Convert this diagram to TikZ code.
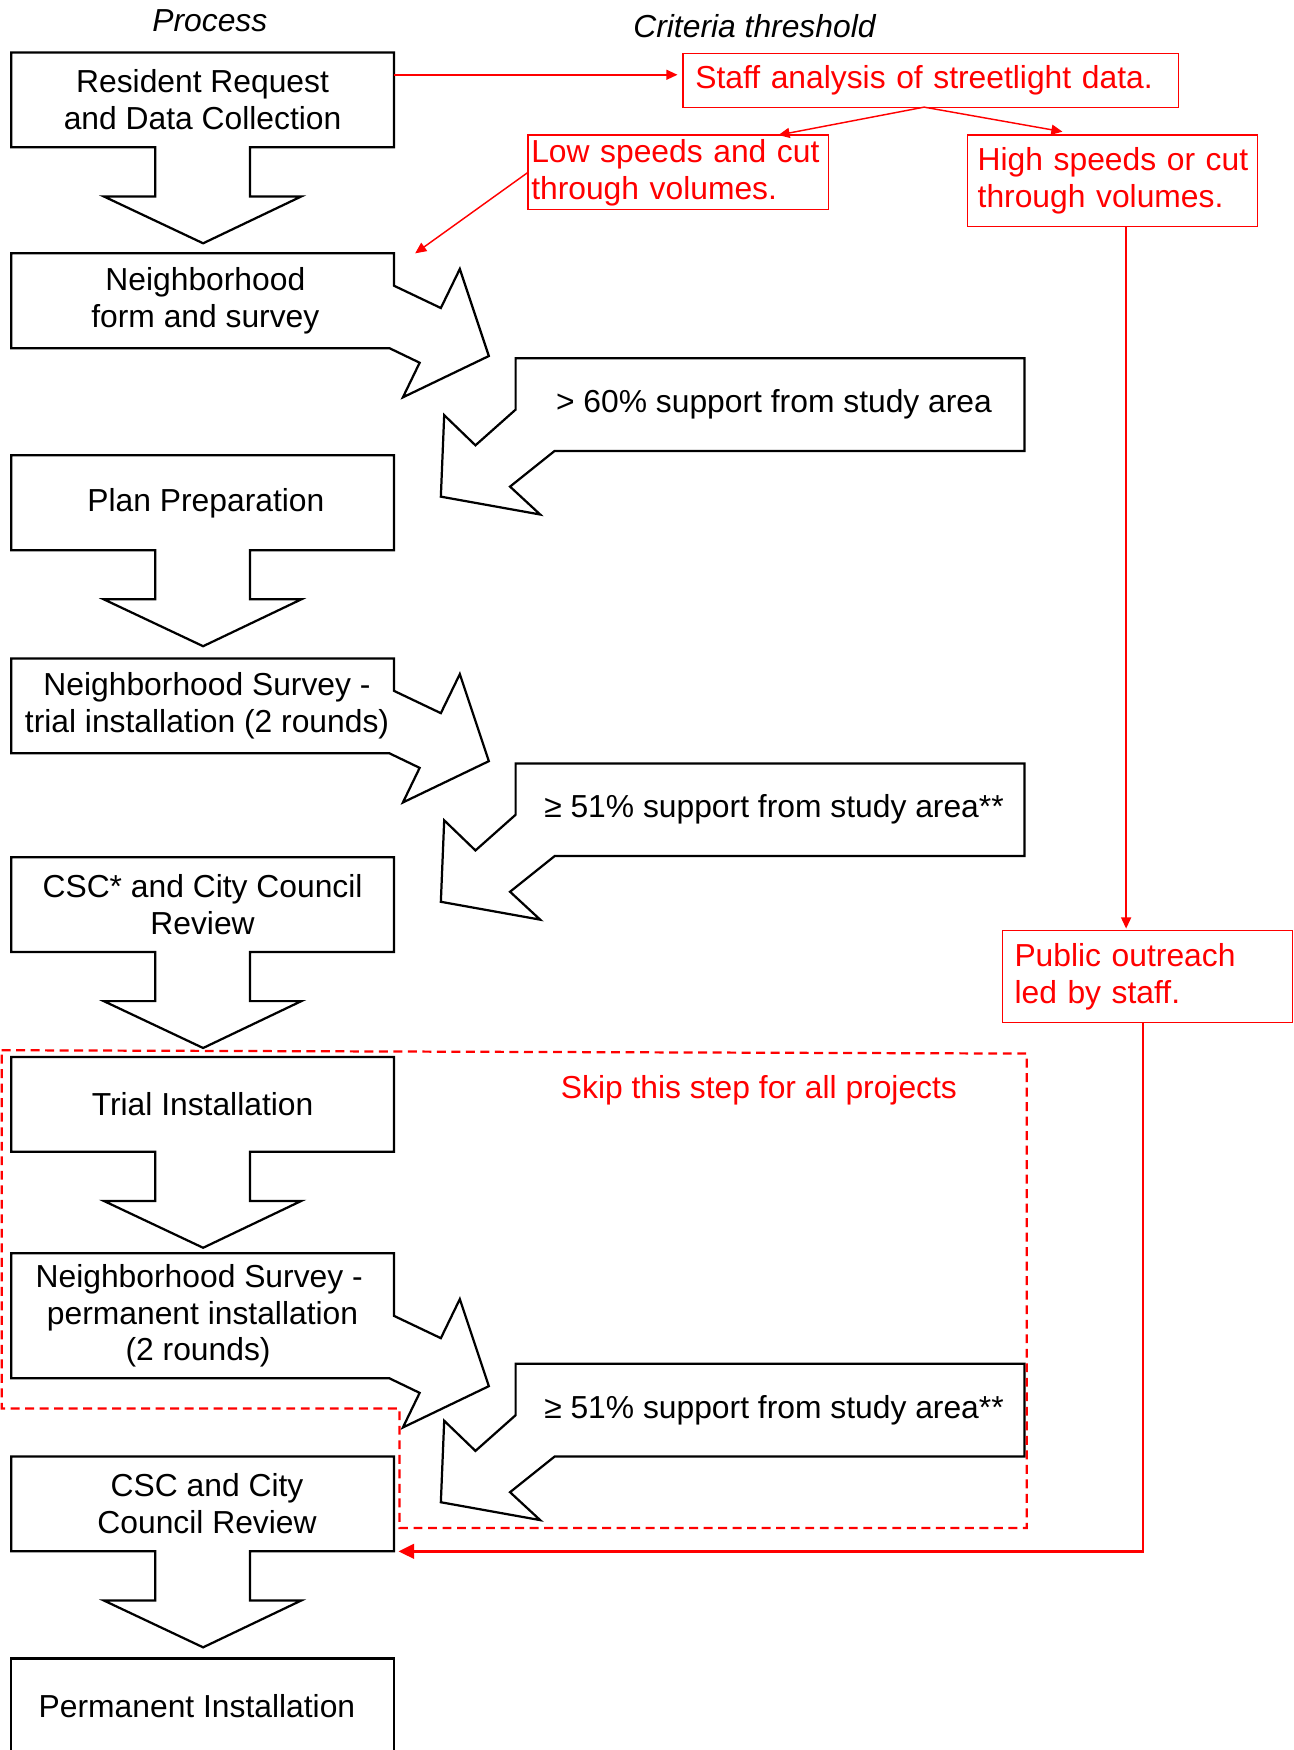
\documentclass[tikz,border=0pt]{standalone}
\usepackage{fontspec}
\setmainfont{Liberation Sans}
\usetikzlibrary{arrows.meta,calc}
\definecolor{rd}{RGB}{255,0,0}
\newcommand{\dnbox}[1]{%
  \draw[outline] (#1.north west) -- (#1.north east) -- (#1.south east) -- ++(-129,0) -- ++(0,44) -- ++(46,0) -- ++(-88,42) -- ++(-89,-42) -- ++(46,0) -- ++(0,-44) -- (#1.south west) -- cycle;}
\newcommand{\sdbox}[1]{%
  \draw[outline] (#1.north west) -- (#1.north east) -- ($(#1.south east)+(0,-56)$) -- ($(#1.south east)+(42,-36)$) -- ($(#1.south east)+(59,-71)$) -- ($(#1.south east)+(85,7)$) -- ($(#1.south east)+(8,44)$) -- ($(#1.south east)+(23,13)$) -- ($(#1.south east)+(-4,0)$) -- (#1.south west) -- cycle;}
\newcommand{\clbox}[1]{%
  \draw[outline] (#1.north west) -- (#1.north east) -- (#1.south east) -- ($(#1.south west)+(35,0)$) -- ($(#1.south west)+(-5,32)$) -- ($(#1.south west)+(22,57)$) -- ($(#1.south west)+(-67,41)$) -- ($(#1.south west)+(-64,-32)$) -- ($(#1.south west)+(-36,-5)$) -- ($(#1.south west)+(0,-37)$) -- cycle;}
\begin{document}
\begin{tikzpicture}[x=1pt,y=-1pt,
  every node/.style={font=\fontsize{28.5}{33}\selectfont, outer sep=0pt},
  pbox/.style={minimum width=343pt, minimum height=85pt, align=center, inner sep=0pt},
  cbox/.style={minimum width=456pt, minimum height=83pt, inner sep=0pt},
  outline/.style={draw=black, line width=2pt, line join=miter},
  rbox/.style={draw=rd, line width=1.1pt, text=rd, align=left, anchor=north west, inner ysep=0pt},
  rarrow/.style={draw=rd, line width=1.3pt, -{Triangle[length=10pt,width=9pt]}},
  rthick/.style={draw=rd, line width=2.4pt, -{Triangle[length=14pt,width=13pt]}},
  ]
\useasboundingbox (0,0) rectangle (1159,1568);

% headers
\node (proc) at (188,19) {\itshape Process};
\node (crit) at (676,23) {\itshape Criteria threshold};

% process steps
\node[pbox] (b1) at (181.5,89.5) {Resident Request\\and Data Collection};
\node[pbox] (b2) at (181.5,269.5) {\hspace*{5pt}Neighborhood\\\hspace*{5pt}form and survey};
\node[pbox] (b3) at (181.5,450.5) {\hspace*{6pt}Plan Preparation};
\node[pbox] (b4) at (181.5,632.5) {\hspace*{8pt}Neighborhood Survey -\\\hspace*{8pt}trial installation (2 rounds)};
\node[pbox] (b5) at (181.5,810.5) {CSC* and City Council\\Review};
\node[pbox] (b6) at (181.5,989.5) {Trial Installation};
\node[pbox, minimum height=112pt] (b7) at (181.5,1179) {Neighborhood Survey -\hspace*{6pt}\\permanent installation\hspace*{8pt}\\(2 rounds)\hspace*{8pt}};
\node[pbox] (b8) at (181.5,1347.5) {\hspace*{8pt}CSC and City\\\hspace*{8pt}Council Review};
\node[pbox] (b9) at (181.5,1528.5) {Permanent Installation\hspace*{10pt}};

\dnbox{b1}
\sdbox{b2}
\dnbox{b3}
\sdbox{b4}
\dnbox{b5}
\dnbox{b6}
\sdbox{b7}
\dnbox{b8}
\draw[outline] (b9.south west) rectangle (b9.north east);

% criteria callouts
\node[cbox] (c1) at (690,362.5) {\hspace*{7pt}> 60\% support from study area};
\node[cbox] (c2) at (690,725.5) {\hspace*{7pt}≥ 51\% support from study area**};
\node[cbox] (c3) at (690,1263.5) {\hspace*{7pt}≥ 51\% support from study area**};
\clbox{c1}
\clbox{c2}
\clbox{c3}

% red boxes
\node[rbox, text width=422pt, inner xsep=11pt, minimum height=48pt] (staff) at (612,48) {Staff analysis of streetlight data.};
\node[rbox, text width=263pt, inner xsep=3pt, minimum height=67pt] (low) at (473,121) {\mbox{Low speeds and cut}\\through volumes.};
\node[rbox, text width=242pt, inner xsep=9pt, minimum height=82pt] (high) at (867,121) {\mbox{High speeds or cut}\\through volumes.};
\node[rbox, text width=238pt, inner xsep=11pt, minimum height=82pt] (po) at (898,834) {Public outreach\\led by staff.};

% red connectors
\coordinate (sa) at ([yshift=5pt]staff.west);
\draw[rarrow, shorten >=5pt] (b1.east |- sa) -- (sa);
\draw[rarrow] ([xshift=-6pt]staff.south) -- ([xshift=90pt]low.north);
\draw[rarrow] ([xshift=-6pt]staff.south) -- ([xshift=-45pt,yshift=3pt]high.north);
\draw[rarrow] (low.west) -- ([xshift=19pt]b2.north east);
\coordinate (hs) at ([xshift=12pt]high.south);
\draw[rarrow, shorten >=2pt] (hs) -- (hs |- po.north);
\coordinate (ps) at ([xshift=-4pt]po.south);
\draw[rthick, shorten >=4pt] (ps) -- (ps |- b8.south east) -- (b8.south east);

% skip region
\draw[rd, line width=2pt, dash pattern=on 8pt off 5pt] (1.5,941) -- (920,944) -- (920,1369) -- (358,1369) -- (358,1262) -- (1.5,1262) -- cycle;
\node[text=rd] (skip) at (680,977) {Skip this step for all projects};
\end{tikzpicture}
\end{document}
